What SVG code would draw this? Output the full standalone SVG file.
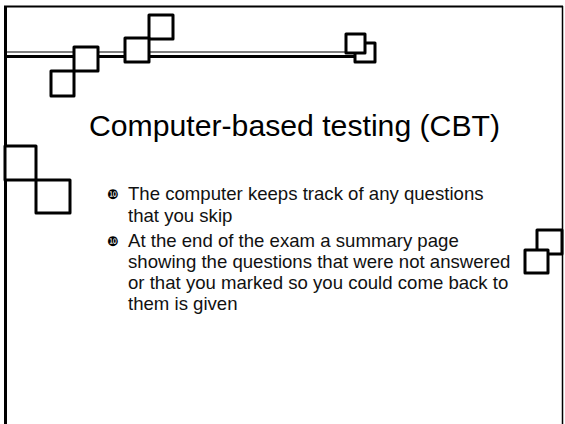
<svg xmlns="http://www.w3.org/2000/svg" width="565" height="424" viewBox="0 0 565 424">
  <style>
    .frame { fill: none; stroke: #000; }
    .sq { fill: #fff; stroke: #000; stroke-width: 3; stroke-linejoin: round; }
    .title { font-family: "Liberation Sans", Arial, sans-serif; font-size: 30.2px; fill: #000; }
    .body { font-family: "Liberation Sans", Arial, sans-serif; font-size: 18.6px; fill: #111; }
    .bullet { font-family: "DejaVu Sans", sans-serif; font-size: 13px; fill: #000; }
  </style>
  <rect width="565" height="424" fill="#fff"/>

  <!-- slide frame -->
  <g id="frame">
    <line class="frame" x1="5.5" y1="6" x2="5.5" y2="430" stroke-width="3"/>
    <line class="frame" x1="4" y1="6.5" x2="563" y2="6.5" stroke-width="2"/>
    <line class="frame" x1="562.5" y1="6" x2="562.5" y2="430" stroke-width="1.5"/>
  </g>

  <!-- header rule -->
  <g id="connectors">
    <line x1="4" y1="52" x2="347" y2="52" stroke="#000" stroke-width="1.2"/>
    <line x1="4" y1="56.5" x2="356" y2="56.5" stroke="#000" stroke-width="3"/>
  </g>

  <!-- decorative squares -->
  <g id="sq-a"><rect class="sq" x="51" y="71" width="23" height="25"/></g>
  <g id="sq-b"><rect class="sq" x="74" y="47" width="24" height="24"/></g>
  <g id="sq-d"><rect class="sq" x="149" y="15" width="24" height="24"/></g>
  <g id="sq-c"><rect class="sq" x="125" y="38" width="24" height="24"/></g>
  <g id="sq-f"><rect class="sq" x="355" y="43" width="20" height="19"/></g>
  <g id="sq-e"><rect class="sq" x="346" y="34" width="19" height="19"/></g>
  <g id="sq-g"><rect class="sq" x="5" y="146" width="31" height="34"/></g>
  <g id="sq-h"><rect class="sq" x="36" y="180" width="34" height="33"/></g>
  <g id="sq-i"><rect class="sq" x="537" y="230" width="25" height="24"/></g>
  <g id="sq-j"><rect class="sq" x="525" y="250" width="23" height="23"/></g>

  <!-- title -->
  <g id="title">
    <text class="title" x="89" y="136">Computer-based testing (CBT)</text>
  </g>

  <!-- bullet list -->
  <g id="bullets">
    <text class="bullet" x="107" y="199">❿</text>
    <text class="body" x="128" y="200">The computer keeps track of any questions</text>
    <text class="body" x="128" y="222">that you skip</text>
    <text class="bullet" x="107" y="246">❿</text>
    <text class="body" x="128" y="247">At the end of the exam a summary page</text>
    <text class="body" x="128" y="268">showing the questions that were not answered</text>
    <text class="body" x="128" y="289">or that you marked so you could come back to</text>
    <text class="body" x="128" y="310">them is given</text>
  </g>
</svg>
